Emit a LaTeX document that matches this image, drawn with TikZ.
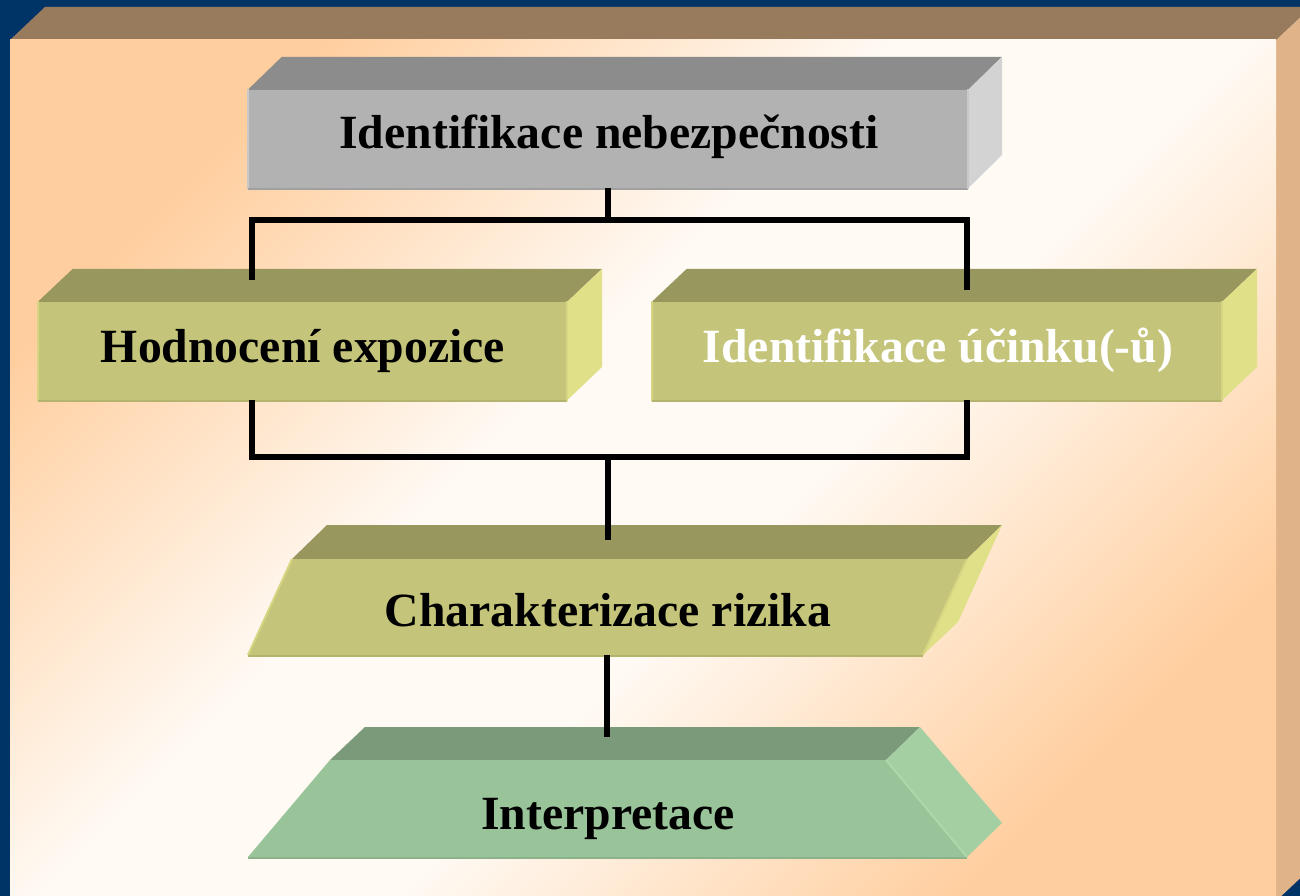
\documentclass[tikz,border=0pt]{standalone}
\usepackage{fontspec}
\setmainfont{Liberation Serif}
\definecolor{peach}{RGB}{255,206,158}
\definecolor{cream}{RGB}{255,250,244}
\pgfdeclareverticalshading{panelshade}{100bp}{color(0bp)=(peach); color(25bp)=(peach); color(44bp)=(cream); color(56bp)=(cream); color(75bp)=(peach); color(100bp)=(peach)}
\begin{document}
\begin{tikzpicture}[x=1pt,y=-1pt,
  conn/.style={line width=5.5pt,black,line join=miter},
  frontbox/.style={rectangle,inner sep=0pt,draw=none},
  lbl/.style={anchor=base,inner sep=0pt,font=\fontsize{47.7}{57}\selectfont\bfseries}]
\definecolor{navy}{RGB}{0,51,102}
\definecolor{paneltop}{RGB}{152,123,93}
\definecolor{panelside}{RGB}{224,179,136}
\definecolor{gtop}{RGB}{140,140,140}
\definecolor{gfront}{RGB}{178,178,178}
\definecolor{gside}{RGB}{211,211,211}
\definecolor{gdark}{RGB}{160,160,160}
\definecolor{glight}{RGB}{200,200,200}
\definecolor{otop}{RGB}{152,151,94}
\definecolor{ofront}{RGB}{196,196,122}
\definecolor{oside}{RGB}{224,224,136}
\definecolor{odark}{RGB}{180,180,110}
\definecolor{olight}{RGB}{214,214,130}
\definecolor{mtop}{RGB}{122,154,122}
\definecolor{mfront}{RGB}{153,195,153}
\definecolor{mside}{RGB}{163,207,163}
\definecolor{mdark}{RGB}{140,178,140}
\definecolor{mlight}{RGB}{172,216,172}
\useasboundingbox (0,0) rectangle (1300,896);
\fill[navy] (0,0) rectangle (1300,896);
\begin{scope}
  \clip (0,0) rectangle (1300,896);
  \fill[paneltop] (10,40) -- (45,7) -- (1311,7) -- (1276,40) -- cycle;
  \fill[panelside] (1276,40) -- (1311,7) -- (1311,868) -- (1276,901) -- cycle;
  \shade[shading=panelshade,shading angle=45] (10,40) rectangle (1276,901);
\end{scope}

% box 1
\node[frontbox,fill=gfront,minimum width=720pt,minimum height=98pt] (b1) at (608,139) {};
\fill[gtop] (b1.north west) -- ++(34,-33) -- ++(720,0) -- (b1.north east) -- cycle;
\fill[gside] (b1.north east) -- ++(34,-33) -- ++(0,98) -- (b1.south east) -- cycle;
\draw[glight,line width=2pt] ([yshift=-1pt]b1.south west) -- ([yshift=1pt]b1.north west);
\draw[gdark,line width=2pt] ([yshift=-1pt]b1.south west) -- ([yshift=-1pt]b1.south east);
\draw[glight,line width=2pt] ([yshift=-1pt]b1.south east) -- ([yshift=1pt]b1.north east);
\node[lbl] (t1) at (609,149) {Identifikace nebezpečnosti};

% box 2
\node[frontbox,fill=ofront,minimum width=529pt,minimum height=98pt] (b2) at (302.5,351) {};
\fill[otop] (b2.north west) -- ++(35,-33) -- ++(529,0) -- (b2.north east) -- cycle;
\fill[oside] (b2.north east) -- ++(35,-33) -- ++(0,98) -- (b2.south east) -- cycle;
\draw[olight,line width=2pt] ([yshift=-1pt]b2.south west) -- ([yshift=1pt]b2.north west);
\draw[odark,line width=2pt] ([yshift=-1pt]b2.south west) -- ([yshift=-1pt]b2.south east);
\draw[olight,line width=2pt] ([yshift=-1pt]b2.south east) -- ([yshift=1pt]b2.north east);
\node[lbl] (t2) at (303,362) {Hodnocení expozice};

% box 3
\node[frontbox,fill=ofront,minimum width=570pt,minimum height=98pt] (b3) at (937,351) {};
\fill[otop] (b3.north west) -- ++(35,-33) -- ++(570,0) -- (b3.north east) -- cycle;
\fill[oside] (b3.north east) -- ++(35,-33) -- ++(0,98) -- (b3.south east) -- cycle;
\draw[olight,line width=2pt] ([yshift=-1pt]b3.south west) -- ([yshift=1pt]b3.north west);
\draw[odark,line width=2pt] ([yshift=-1pt]b3.south west) -- ([yshift=-1pt]b3.south east);
\draw[olight,line width=2pt] ([yshift=-1pt]b3.south east) -- ([yshift=1pt]b3.north east);
\node[lbl,text=white] (t3) at (938,362) {Identifikace účinku(-ů)};

% box 4
\coordinate (b4ftl) at (292,559);
\coordinate (b4ftr) at (967,559);
\coordinate (b4fbr) at (923,655);
\coordinate (b4fbl) at (248,655);
\fill[otop] (b4ftl) -- (327,525) -- (1002,525) -- (b4ftr) -- cycle;
\fill[oside] (b4ftr) -- (1002,525) -- (958,622) -- (b4fbr) -- cycle;
\fill[ofront] (b4ftl) -- (b4ftr) -- (b4fbr) -- (b4fbl) -- cycle;
\draw[olight,line width=2pt] (b4fbl) -- (b4ftl);
\draw[odark,line width=2pt] ([yshift=-1pt]b4fbl) -- ([yshift=-1pt]b4fbr);
\draw[olight,line width=2pt] (b4fbr) -- (b4ftr);
\node[lbl] (t4) at (608,626) {Charakterizace rizika};

% box 5
\coordinate (b5ftl) at (330,760);
\coordinate (b5ftr) at (886,760);
\coordinate (b5fbr) at (967,857);
\coordinate (b5fbl) at (248,857);
\fill[mtop] (b5ftl) -- (365,727) -- (920,727) -- (b5ftr) -- cycle;
\fill[mside] (b5ftr) -- (920,727) -- (1002,823) -- (b5fbr) -- cycle;
\fill[mfront] (b5ftl) -- (b5ftr) -- (b5fbr) -- (b5fbl) -- cycle;
\draw[mdark,line width=2pt] ([yshift=-1pt]b5fbl) -- ([yshift=-1pt]b5fbr);
\draw[mlight,line width=2pt] (b5fbr) -- (b5ftr);
\node[lbl] (t5) at (608,829) {Interpretace};

% connectors
\coordinate (j1) at (608,220);
\coordinate (h1l) at (252,220);
\coordinate (h1r) at (967,220);
\coordinate (e2) at (252,280);
\coordinate (e3) at (967,290);
\coordinate (s2) at (252,400);
\coordinate (s3) at (967,400);
\coordinate (j2) at (608,457);
\coordinate (e4) at (608,540);
\coordinate (s4) at (607,655);
\coordinate (e5) at (607,737);
\draw[conn] (b1.south) -- (j1);
\draw[conn] (e2) -- (h1l) -- (h1r) -- (e3);
\draw[conn] (s2) |- (j2) -| (s3);
\draw[conn] (j2) -- (e4);
\draw[conn] (s4) -- (e5);
\end{tikzpicture}
\end{document}
